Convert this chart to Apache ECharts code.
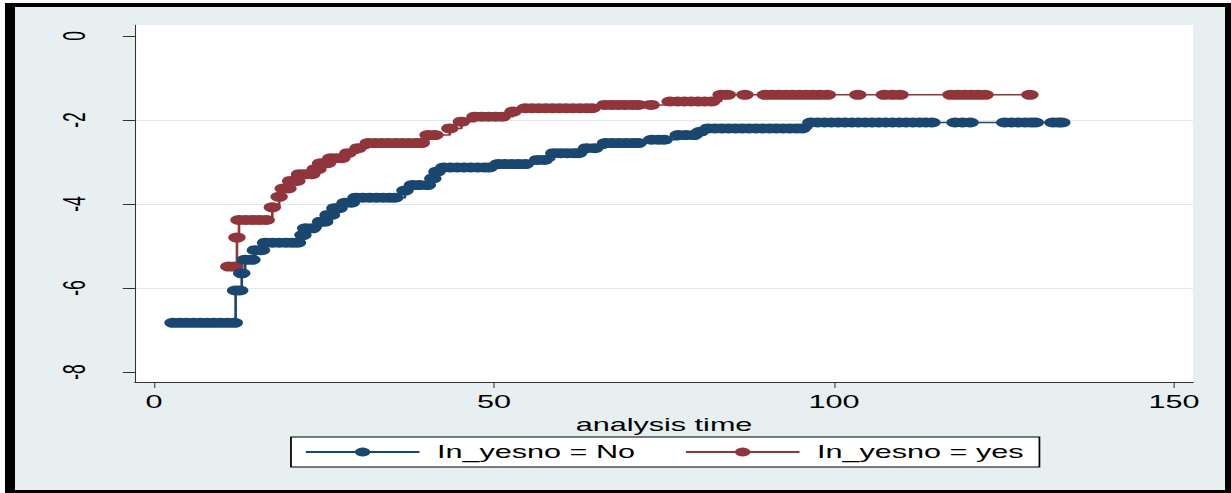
<!DOCTYPE html>
<html>
<head>
<meta charset="utf-8">
<title>ln_yesno</title>
<script src="https://cdn.jsdelivr.net/npm/echarts@6.0.0/dist/echarts.min.js"></script>
<style>
  html, body { margin: 0; padding: 0; background: #fff; overflow: hidden; }
  /* black frame + light graph region of the Stata export */
  #frame {
    position: absolute; left: 5px; top: 3px; width: 1226px; height: 490px; box-sizing: border-box;
    border-left: 10px solid #000; border-top: 4px solid #000; border-right: 6px solid #000; border-bottom: 3px solid #000;
    background: #e8eff1;
  }
  /* the original picture is stretched horizontally, so the chart is drawn narrow and scaled in x */
  #chart {
    position: absolute; left: 0; top: 0; width: 704px; height: 493px;
    transform: scaleX(1.74858); transform-origin: 0 0;
  }
</style>
</head>
<body>
<div id="frame"></div>
<div id="chart"></div>
<script>
// 軸刻度
const xTicks = [0, 50, 100, 150]
const yTicks = [-8, -6, -4, -2, 0]
const seriesNames = ['In_yesno = No', 'In_yesno = yes']

// [analysis time, value] 讀自圖上的每個標記
const noPoints = [
  [2.8, -6.83], [3.8, -6.83], [4.8, -6.83], [5.8, -6.83], [6.8, -6.83], [7.8, -6.83], [8.8, -6.83], [9.8, -6.83], [10.8, -6.83], [11.8, -6.83],
  [12.0, -6.06], [12.6, -6.06],
  [12.9, -5.65],
  [13.4, -5.33], [14.4, -5.33],
  [14.9, -5.10], [15.8, -5.10],
  [16.4, -4.92], [17.4, -4.92], [18.4, -4.92], [19.4, -4.92], [20.3, -4.92], [21.1, -4.92],
  [21.9, -4.74],
  [22.3, -4.58], [23.3, -4.58],
  [24.5, -4.42], [25.1, -4.42],
  [25.6, -4.26], [26.1, -4.26],
  [26.6, -4.10], [27.2, -4.10],
  [28.1, -3.97], [29.0, -3.97],
  [29.7, -3.85], [30.7, -3.85], [31.7, -3.85], [32.7, -3.85], [33.7, -3.85], [34.6, -3.85], [35.4, -3.85],
  [36.9, -3.68],
  [38.0, -3.55], [39.0, -3.55], [40.2, -3.55],
  [41.0, -3.39],
  [41.6, -3.23],
  [42.6, -3.13], [43.6, -3.13], [44.6, -3.13], [45.6, -3.13], [46.6, -3.13], [47.6, -3.13], [48.6, -3.13], [49.3, -3.13],
  [50.6, -3.05], [51.6, -3.05], [52.6, -3.05], [53.6, -3.05], [54.6, -3.05],
  [56.4, -2.95], [57.4, -2.95],
  [58.8, -2.79], [59.8, -2.79], [60.8, -2.79], [61.8, -2.79], [62.4, -2.79],
  [63.6, -2.67], [64.8, -2.67],
  [66.4, -2.55], [67.4, -2.55], [68.4, -2.55], [69.4, -2.55], [70.4, -2.55], [71.2, -2.55],
  [73.2, -2.47], [74.2, -2.47], [75.0, -2.47],
  [77.1, -2.36], [78.2, -2.36], [79.4, -2.36],
  [80.3, -2.28],
  [81.5, -2.20], [82.5, -2.20], [83.5, -2.20], [84.5, -2.20], [85.5, -2.20], [86.5, -2.20], [87.5, -2.20], [88.5, -2.20],
  [89.5, -2.20], [90.5, -2.20], [91.5, -2.20], [92.5, -2.20], [93.5, -2.20], [94.5, -2.20], [95.3, -2.20],
  [96.6, -2.06], [97.6, -2.06], [98.6, -2.06], [99.6, -2.06], [100.6, -2.06], [101.6, -2.06], [102.6, -2.06], [103.6, -2.06], [104.6, -2.06],
  [105.6, -2.06], [106.6, -2.06], [107.6, -2.06], [108.6, -2.06], [109.6, -2.06], [110.6, -2.06], [111.6, -2.06], [112.6, -2.06], [113.5, -2.06], [114.4, -2.06],
  [117.8, -2.06], [118.9, -2.06], [120.0, -2.06],
  [125.1, -2.06], [126.1, -2.06], [127.1, -2.06], [128.1, -2.06], [129.0, -2.06], [129.6, -2.06],
  [132.2, -2.06], [133.0, -2.06], [133.5, -2.06],
]

const yesPoints = [
  [11.0, -5.49], [11.9, -5.49],
  [12.2, -4.80],
  [12.5, -4.38], [13.5, -4.38], [14.5, -4.38], [15.5, -4.38], [16.5, -4.38],
  [17.4, -4.08],
  [18.4, -3.83],
  [19.0, -3.63], [19.7, -3.63],
  [20.1, -3.45], [21.0, -3.45],
  [21.4, -3.29], [22.3, -3.29], [23.2, -3.29],
  [23.7, -3.17], [24.1, -3.17],
  [24.5, -3.03], [25.5, -3.03],
  [26.0, -2.91], [26.8, -2.91], [27.6, -2.91],
  [28.5, -2.79],
  [30.0, -2.67],
  [31.5, -2.55], [32.5, -2.55], [33.5, -2.55], [34.5, -2.55], [35.5, -2.55], [36.5, -2.55], [37.5, -2.55], [38.5, -2.55], [39.3, -2.55],
  [40.3, -2.36], [41.3, -2.36],
  [43.5, -2.20],
  [45.2, -2.04],
  [47.2, -1.92], [48.2, -1.92], [49.2, -1.92], [50.2, -1.92], [51.2, -1.92],
  [52.8, -1.80],
  [54.6, -1.72], [55.6, -1.72], [56.6, -1.72], [57.6, -1.72], [58.6, -1.72], [59.6, -1.72], [60.6, -1.72], [61.6, -1.72], [62.6, -1.72], [63.6, -1.72], [64.4, -1.72],
  [66.3, -1.64], [67.3, -1.64], [68.3, -1.64], [69.3, -1.64], [70.3, -1.64], [71.2, -1.64], [73.1, -1.64],
  [75.9, -1.56], [77.0, -1.56], [78.0, -1.56], [79.0, -1.56], [80.0, -1.56], [81.0, -1.56], [82.0, -1.56],
  [83.4, -1.40], [84.3, -1.40], [86.9, -1.40],
  [89.9, -1.40], [90.9, -1.40], [91.9, -1.40], [92.9, -1.40], [93.9, -1.40], [94.9, -1.40], [95.9, -1.40], [96.9, -1.40], [97.9, -1.40], [99.0, -1.40],
  [103.5, -1.40],
  [107.4, -1.40], [108.6, -1.40], [109.7, -1.40],
  [117.2, -1.40], [118.2, -1.40], [119.2, -1.40], [120.2, -1.40], [121.2, -1.40], [122.2, -1.40],
  [128.8, -1.40],
]

const navy = '#1a476f'
const maroon = '#90353b'
const axisColor = '#333'
const gridColor = '#e1e9ec'

const myChart = echarts.init(document.getElementById('chart'), null, { renderer: 'svg' })

const option = {
  animation: false,
  textStyle: { fontFamily: 'Liberation Sans' },
  grid: {
    left: 77.21,
    right: 21.73,
    top: 25,
    bottom: 111,
    show: true,
    backgroundColor: '#fff',
    borderWidth: 0,
    outerBoundsMode: 'none',
  },
  legend: {
    data: seriesNames,
    left: 166.4,
    top: 437,
    orient: 'horizontal',
    padding: [6, 9, 6, 7.5],
    itemGap: 28,
    itemWidth: 65,
    itemHeight: 11,
    backgroundColor: '#fff',
    borderColor: '#000',
    borderWidth: 1,
    selectedMode: false,
    textStyle: { fontSize: 17.5, color: '#000', padding: [0, 0, 0, 5] },
  },
  xAxis: {
    type: 'value',
    min: -2.794,
    max: 152.79,
    name: 'analysis time',
    nameLocation: 'middle',
    nameGap: 24,
    nameTextStyle: { fontSize: 17.5, color: '#000' },
    axisLine: { show: true, onZero: false, lineStyle: { color: axisColor, width: 1 } },
    axisTick: { show: true, length: 6, customValues: xTicks, lineStyle: { color: axisColor, width: 0.6 } },
    axisLabel: { customValues: xTicks, margin: 11, fontSize: 17.5, color: '#000' },
    splitLine: { show: false },
  },
  yAxis: {
    type: 'value',
    min: -8.238,
    max: 0.262,
    axisLine: { show: true, onZero: false, lineStyle: { color: axisColor, width: 0.6 } },
    axisTick: { show: true, length: 7, customValues: yTicks, lineStyle: { color: axisColor, width: 1 } },
    axisLabel: { customValues: yTicks, rotate: 90, margin: 26, fontSize: 17.5, color: '#000' },
    splitLine: {
      show: true,
      showMinLine: false,
      showMaxLine: false,
      // 0 處不畫格線
      lineStyle: { color: [gridColor, gridColor, gridColor, gridColor, 'rgba(0,0,0,0)'], width: 1 },
    },
  },
  series: [
    {
      name: seriesNames[0],
      type: 'line',
      data: noPoints,
      step: 'end',
      symbol: 'circle',
      symbolSize: 10,
      showSymbol: true,
      showAllSymbol: true,
      itemStyle: { color: navy },
      lineStyle: { color: navy, width: 1.5 },
      z: 3,
      silent: true,
    },
    {
      name: seriesNames[1],
      type: 'line',
      data: yesPoints,
      step: 'end',
      symbol: 'circle',
      symbolSize: 10,
      showSymbol: true,
      showAllSymbol: true,
      itemStyle: { color: maroon },
      lineStyle: { color: maroon, width: 1.5 },
      z: 2,
      silent: true,
    },
  ],
}

myChart.setOption(option)
</script>
</body>
</html>
